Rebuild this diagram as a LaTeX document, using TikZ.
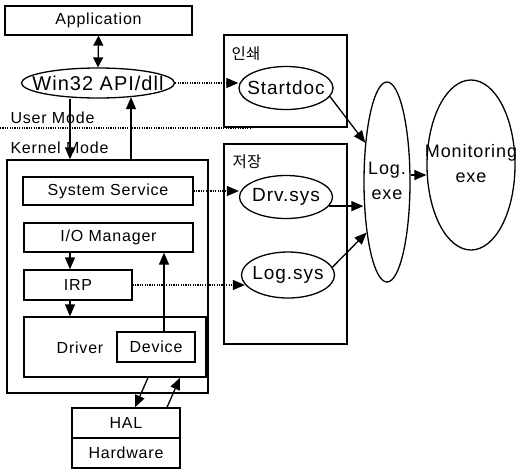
\documentclass[tikz,border=0pt]{standalone}
\usepackage{fontspec}
\setmainfont{Liberation Sans}[LetterSpace=5]
\newfontfamily\kr{Noto Sans CJK KR}
\usetikzlibrary{arrows.meta,shapes.geometric,calc}
\begin{document}
\begin{tikzpicture}[x=1pt,y=-1pt,
  box/.style={draw, rectangle, line width=1.3pt, inner sep=0pt, font=\fontsize{16}{18}\selectfont},
  ell/.style={draw, ellipse, line width=1.3pt, inner sep=0pt, font=\fontsize{19}{25}\selectfont},
  lbl/.style={inner sep=0pt, font=\fontsize{16}{18}\selectfont},
  krl/.style={inner sep=0pt, font=\kr\fontsize{15.5}{17}\selectfont},
  arr/.style={line width=1.3pt, -{Triangle[length=12pt,width=10pt]}},
  darr/.style={line width=1.3pt, {Triangle[length=10pt,width=10pt]}-{Triangle[length=10pt,width=10pt]}},
  dot/.style={line width=1.2pt, dash pattern=on 1.2pt off 1.2pt}]
\useasboundingbox (0,0) rectangle (521,472);

% left column
\node[box, minimum width=187pt, minimum height=29pt] (app) at (98.5,20.5) {Application};
\node[ell, minimum width=153pt, minimum height=30pt] (win) at (98,83) {\makebox[0pt]{\fontsize{20}{22}\selectfont Win32 API/dll}};
\node[lbl] (um) at (52.5,118) {User Mode};
\node[lbl] (km) at (59.5,148) {Kernel Mode};
\node[box, minimum width=201pt, minimum height=233pt] (kern) at (107.5,276.5) {};
\node[box, minimum width=170pt, minimum height=28pt] (sys) at (108,191) {System Service};
\node[box, minimum width=169pt, minimum height=29pt] (io) at (108.5,237.5) {I/O Manager};
\node[box, minimum width=108pt, minimum height=30pt] (irp) at (78,285) {IRP};
\node[box, minimum width=182pt, minimum height=60pt] (drv) at (115,347) {};
\node[lbl] (drvt) at (80,348) {Driver};
\node[box, minimum width=78pt, minimum height=30pt] (dev) at (156,347) {Device};
\node[box, minimum width=108pt, minimum height=30pt] (hal) at (126,423) {HAL};
\node[box, minimum width=108pt, minimum height=30pt] (hw) at (126,453) {Hardware};

% right column
\node[box, minimum width=123pt, minimum height=92pt] (prt) at (285.5,81) {};
\node[krl] (prtl) at (246,53.5) {인쇄};
\node[ell, minimum width=94pt, minimum height=43pt] (sd) at (286,88) {\makebox[0pt]{Startdoc}};
\node[box, minimum width=123pt, minimum height=200pt] (sto) at (285.5,244) {};
\node[krl] (stol) at (247,162) {저장};
\node[ell, minimum width=93pt, minimum height=43pt] (ds) at (286,197) {\makebox[0pt]{Drv.sys}};
\node[ell, minimum width=93pt, minimum height=46pt] (ls) at (288,275) {\makebox[0pt]{Log.sys}};
\node[ell, minimum width=46pt, minimum height=200pt, font=\fontsize{18}{25}\selectfont] (le) at (387,182)
  {\makebox[0pt]{\begin{tabular}{@{}c@{}}Log.\\exe\end{tabular}}};
\node[ell, minimum width=88pt, minimum height=170pt, font=\fontsize{18}{25}\selectfont] (mon) at (471,165)
  {\makebox[0pt]{\begin{tabular}{@{}c@{}}Monitoring\\exe\end{tabular}}};

% mode separator
\draw[dot] (0,128) -- (252,128);

% connectors
\draw[darr] (app.south) -- (win.north);
\draw[arr, dot] (win.east) -- (win.east -| sd.west);
\draw[arr] ([xshift=-28pt]win.south) -- ([xshift=-28pt]win.south |- kern.north);
\draw[arr] ([xshift=33pt]win.south |- kern.north) -- ([xshift=33pt,yshift=1.5pt]win.south);
\draw[arr, dot] (sys.east) -- (sys.east -| ds.west);
\draw[arr] ([xshift=-8pt]irp.north |- io.south) -- ([xshift=-8pt]irp.north);
\draw[arr] ([xshift=-8pt]irp.south) -- ([xshift=-8pt]irp.south |- drv.north);
\draw[arr, dot] (irp.east) -- ([xshift=4pt]ls.west |- irp.east);
\draw[arr] ([xshift=8pt]dev.north) -- ([xshift=8pt]dev.north |- io.south);
\draw[arr] ([xshift=33pt]drv.south) -- ([xshift=9pt]hal.north);
\draw[arr] ([xshift=41pt]hal.north) -- ([xshift=65pt]drv.south);
\draw[arr] (sd.-11) -- (le.119);
\draw[arr] (ds.-12) -- (ds.-12 -| le.west);
\draw[arr] (ls.10) -- (le.-112);
\draw[arr] ([yshift=7pt]le.east) -- ([yshift=7pt]le.east -| mon.west);
\end{tikzpicture}
\end{document}
